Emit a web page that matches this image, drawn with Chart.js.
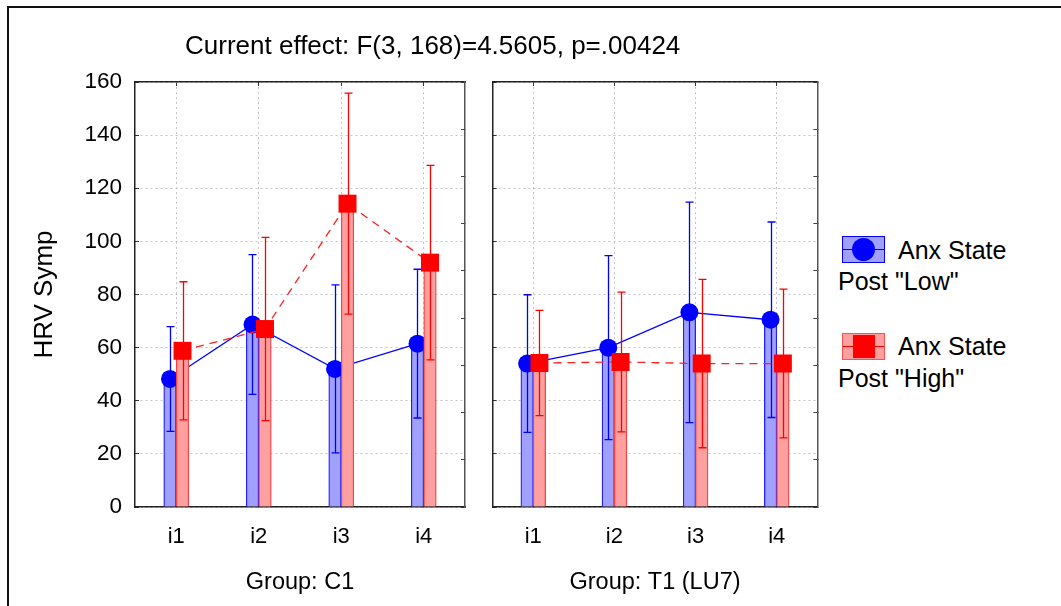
<!DOCTYPE html>
<html>
<head>
<meta charset="utf-8">
<script src="https://cdn.jsdelivr.net/npm/chart.js@4"></script>
<style>
  body { margin: 0; background: #fff; font-family: "Liberation Sans", Arial, sans-serif; }
  #page { position: relative; width: 1061px; height: 606px; overflow: hidden; }
  canvas { position: absolute; top: 0; }
  .txt { position: absolute; line-height: 1; white-space: nowrap; color: #000; }
  .frameTop { position: absolute; left: 8px; top: 6px; width: 1053px; height: 2px; background: #111; }
  .frameLeft { position: absolute; left: 7px; top: 6px; width: 2px; height: 600px; background: #111; }
  .legBox { position: absolute; width: 41px; height: 25px; }
</style>
</head>
<body>
<div id="page">
  <div class="frameTop"></div>
  <div class="frameLeft"></div>
  <canvas id="c1" width="480" height="606" style="left:0"></canvas>
  <canvas id="c2" width="350" height="606" style="left:480px"></canvas>

  <div class="txt" style="left:185px; top:32px; font-size:26px;">Current effect: F(3, 168)=4.5605, p=.00424</div>

  <!-- legend -->
  <div class="legBox" style="left:842px; top:236px; background:#a0a0ff; border:1px solid #0000ff;">
    <div style="position:absolute; left:0; top:12px; width:41px; height:1px; background:#0000ff;"></div>
    <div style="position:absolute; left:9px; top:1px; width:23px; height:23px; border-radius:50%; background:#0000ff;"></div>
  </div>
  <div class="txt" style="left:898px; top:238px; font-size:25px;">Anx State</div>
  <div class="txt" style="left:838px; top:269px; font-size:25px;">Post "Low"</div>

  <div class="legBox" style="left:842px; top:333px; background:#ffa0a0; border:1px solid #ff5050;">
    <div style="position:absolute; left:0; top:12px; width:41px; height:1px; background:#ff0000;"></div>
    <div style="position:absolute; left:10px; top:1px; width:22px; height:23px; background:#ff0000;"></div>
  </div>
  <div class="txt" style="left:898px; top:334px; font-size:25px;">Anx State</div>
  <div class="txt" style="left:838px; top:366px; font-size:25px;">Post "High"</div>
</div>

<script>
const categories = ['i1', 'i2', 'i3', 'i4'];
const yTicks = [0, 20, 40, 60, 80, 100, 120, 140, 160];

// Group C1
const lowC1 = [48.2, 68.7, 52.0, 61.5];
const lowC1Err = [19.7, 26.3, 31.6, 28.0];
const highC1 = [58.8, 67.0, 114.2, 92.0];
const highC1Err = [26.0, 34.5, 41.6, 36.6];

// Group T1 (LU7)
const lowT1 = [54.0, 60.0, 73.3, 70.5];
const lowT1Err = [25.9, 34.6, 41.5, 36.8];
const highT1 = [54.2, 54.6, 54.0, 54.0];
const highT1Err = [19.8, 26.3, 31.7, 28.0];

const FONT = "'Liberation Sans', Arial, sans-serif";
const SHIFT = 0.0758; // half a bar, in category units
const BAR_W = 12.5;

const errorBars = {
  id: 'errorBars',
  afterDatasetDraw(chart, args) {
    const ds = chart.data.datasets[args.index];
    if (!ds.errors) return;
    const ctx = chart.ctx;
    const y = chart.scales.y;
    ctx.save();
    ctx.strokeStyle = ds.errorColor;
    ctx.lineWidth = 1.3;
    args.meta.data.forEach((bar, i) => {
      const x = Math.round(bar.x) + 0.5;
      const v = ds.data[i].y;
      const t = y.getPixelForValue(v + ds.errors[i]);
      const b = y.getPixelForValue(v - ds.errors[i]);
      ctx.beginPath();
      ctx.moveTo(x, t); ctx.lineTo(x, b);
      ctx.moveTo(x - 4, t); ctx.lineTo(x + 4, t);
      ctx.moveTo(x - 4, b); ctx.lineTo(x + 4, b);
      ctx.stroke();
    });
    ctx.restore();
  }
};

function panel(id, low, lowErr, high, highErr, group, isLeft, padRight) {
  const pts = (vals, off) => vals.map((v, i) => ({ x: i + off, y: v }));
  return new Chart(document.getElementById(id), {
    data: {
      labels: categories,
      datasets: [
        {
          type: 'bar', data: pts(low, -SHIFT), xAxisID: 'xl', errors: lowErr, errorColor: '#0000ff',
          backgroundColor: '#a0a0ff', borderColor: '#2020ff',
          borderWidth: { left: 1.3, right: 1.3, top: 0, bottom: 0 }, borderSkipped: false,
          barThickness: BAR_W, grouped: false, order: 4
        },
        {
          type: 'line', data: pts(low, -SHIFT), xAxisID: 'xl',
          borderColor: '#0000ff', borderWidth: 1.3, fill: false,
          pointStyle: 'circle', pointRadius: 9, pointBackgroundColor: '#0000ff',
          pointBorderWidth: 0, order: 3
        },
        {
          type: 'bar', data: pts(high, SHIFT), xAxisID: 'xl', errors: highErr, errorColor: '#ff0000',
          backgroundColor: '#ffa0a0', borderColor: '#ff4040',
          borderWidth: { left: 1.3, right: 1.3, top: 0, bottom: 0 }, borderSkipped: false,
          barThickness: BAR_W, grouped: false, order: 2
        },
        {
          type: 'line', data: pts(high, SHIFT), xAxisID: 'xl',
          borderColor: '#ff2020', borderWidth: 1.3, borderDash: [8, 6], fill: false,
          pointStyle: 'rect', pointRadius: 12.7, pointBackgroundColor: '#ff0000',
          pointBorderWidth: 0, order: 1
        }
      ]
    },
    options: {
      responsive: false,
      animation: false,
      layout: { padding: { left: 0, right: padRight, top: 82, bottom: 0 } },
      plugins: { legend: { display: false }, tooltip: { enabled: false } },
      scales: {
        x: {
          type: 'category', position: 'bottom', offset: true,
          afterFit: s => { s.height = 99; },
          grid: { offset: false, color: '#c4c4c4', tickLength: -4, tickColor: '#333', tickBorderDash: [] },
          border: { color: '#222', width: 1.5, dash: [2, 3] },
          ticks: { color: '#000', padding: 21, maxRotation: 0, font: { family: FONT, size: 22 } },
          title: { display: true, text: group, color: '#000', padding: { top: 0, bottom: 9 }, font: { family: FONT, size: 23.5 } }
        },
        xl: { type: 'linear', display: false, offset: false, min: -0.5, max: 3.5 },
        xt: {
          type: 'category', position: 'top', offset: true, labels: categories,
          afterFit: s => { s.height = 0; },
          grid: { offset: false, drawOnChartArea: false, tickLength: -4, tickColor: '#333' },
          border: { color: '#222', width: 1.5 },
          ticks: { display: false }
        },
        y: {
          type: 'linear', position: 'left', min: 0, max: 160,
          afterFit: s => { s.width = isLeft ? 135 : 11; },
          afterBuildTicks: s => { s.ticks = yTicks.map(v => ({ value: v })); },
          grid: { color: '#c4c4c4', tickLength: -4, tickColor: '#333', tickBorderDash: [] },
          border: { color: '#222', width: 1.5, dash: [2, 3] },
          ticks: { display: isLeft, color: '#000', padding: 17, font: { family: FONT, size: 22.5 } },
          title: { display: isLeft, text: 'HRV Symp', color: '#000', padding: { top: 29.4, bottom: 0 }, font: { family: FONT, size: 26 } }
        },
        yr: {
          type: 'linear', position: 'right', min: 0, max: 9,
          afterFit: s => { s.width = 0; },
          grid: { drawOnChartArea: false, tickLength: -4, tickColor: '#444' },
          border: { color: '#555', width: 1.5 },
          ticks: { display: false, stepSize: 1 }
        }
      }
    },
    plugins: [errorBars]
  });
}

panel('c1', lowC1, lowC1Err, highC1, highC1Err, 'Group: C1', true, 15);
panel('c2', lowT1, lowT1Err, highT1, highT1Err, 'Group: T1 (LU7)', false, 10);
</script>
</body>
</html>
